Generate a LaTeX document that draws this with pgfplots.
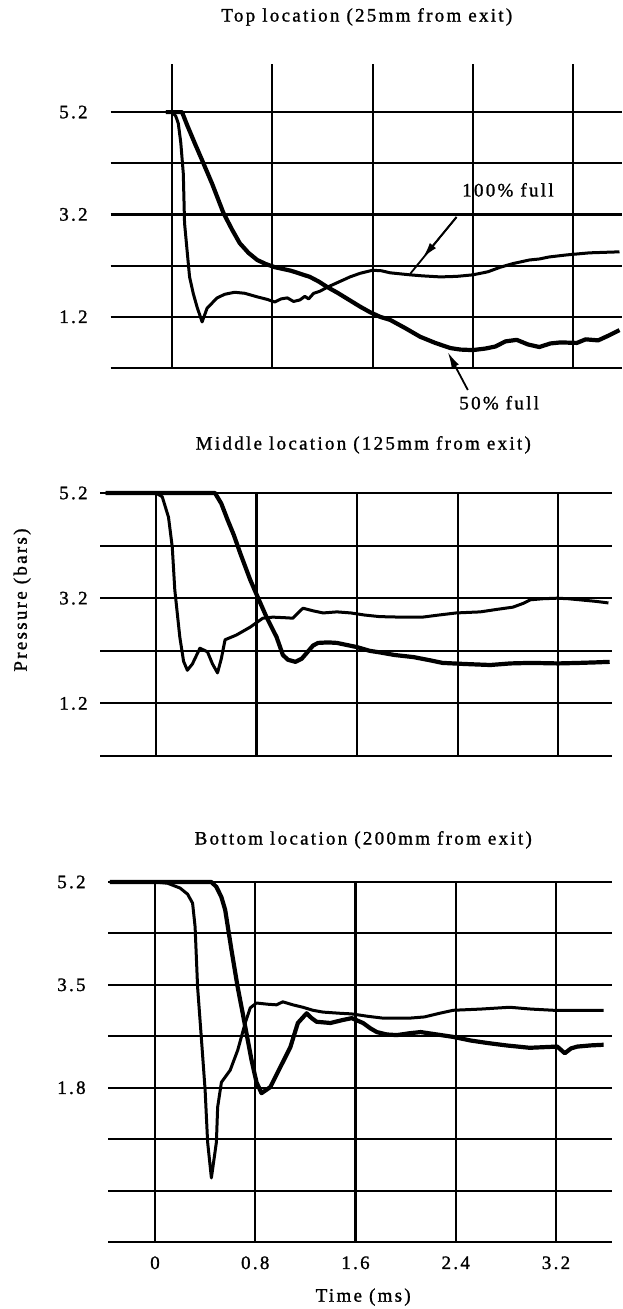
\documentclass[border=0pt]{standalone}
\usepackage{pgfplots}
\pgfplotsset{compat=1.18}
\usepackage{fontspec}
\setmainfont{Liberation Serif}[LetterSpace=12, FakeBold=1.2]
\usetikzlibrary{arrows.meta}

\newcommand{\figfont}{\fontsize{9.5}{11}\selectfont}
\pgfplotsset{
  every axis title shift=0pt,
  panel/.style={
    scale only axis, clip=false,
    axis line style={draw=none},
    major tick length=0pt,
    grid=major,
    major grid style={black, line width=1.05pt},
    xtick={0,0.8,1.6,2.4,3.2},
    /pgf/number format/assume math mode=true,
    tick label style={font=\figfont, inner sep=0pt},
    label style={font=\figfont},
    title style={font=\figfont, anchor=center},
  },
  fast/.style={black, line width=1.5pt, line join=round, no marks},
  slow/.style={black, line width=2.1pt, line join=round, no marks},
}

\begin{document}
\begin{tikzpicture}
\useasboundingbox (0,0) rectangle (311pt,-654.5pt);

% ---------------- Top panel ----------------
\begin{axis}[panel, at={(55.3pt,-184pt)}, anchor=south west,
  width=255.7pt, height=152pt,
  xmin=-0.49, xmax=3.59, ymin=0.2, ymax=6.14,
  ytick={0.2,1.2,2.2,3.2,4.2,5.2}, yticklabels={,1.2,,3.2,,5.2},
  xticklabels={},
  yticklabel style={anchor=east, xshift=-11.3pt},
  title={Top location (25mm from exit)},
  title style={at={(axis description cs:0.501,1.155)}}]
\addplot[fast] coordinates {
(-0.05,5.2) (0,5.2) (0.03,5.12) (0.05,4.98) (0.07,4.6) (0.09,4.0) (0.10,3.03) (0.12,2.5) (0.14,1.98) (0.17,1.65) (0.20,1.39) (0.24,1.1) (0.28,1.37) (0.32,1.47) (0.36,1.57) (0.42,1.64) (0.50,1.68) (0.58,1.66) (0.68,1.59) (0.76,1.54) (0.82,1.49) (0.87,1.55) (0.92,1.57) (0.97,1.5) (1.02,1.53) (1.06,1.6) (1.09,1.55) (1.13,1.66) (1.18,1.70) (1.24,1.78) (1.33,1.88) (1.42,1.98) (1.50,2.05) (1.60,2.11) (1.67,2.10) (1.74,2.06) (1.82,2.04) (1.90,2.02) (2.0,2.0) (2.14,1.98) (2.27,1.99) (2.40,2.02) (2.52,2.08) (2.62,2.17) (2.72,2.24) (2.85,2.31) (2.93,2.33) (3.01,2.37) (3.15,2.41) (3.33,2.45) (3.45,2.46) (3.57,2.47)
};
\addplot[slow] coordinates {
(-0.05,5.2) (0.08,5.2) (0.12,4.95) (0.18,4.6) (0.24,4.26) (0.32,3.8) (0.41,3.23) (0.48,2.9) (0.54,2.64) (0.61,2.45) (0.68,2.31) (0.75,2.23) (0.82,2.17) (0.95,2.1) (1.10,1.98) (1.17,1.89) (1.24,1.78) (1.32,1.67) (1.40,1.55) (1.50,1.40) (1.58,1.29) (1.66,1.2) (1.74,1.14) (1.86,0.98) (1.98,0.81) (2.10,0.69) (2.22,0.59) (2.30,0.56) (2.40,0.55) (2.50,0.58) (2.58,0.62) (2.66,0.72) (2.75,0.75) (2.84,0.66) (2.93,0.61) (3.02,0.68) (3.10,0.7) (3.23,0.69) (3.30,0.76) (3.40,0.74) (3.48,0.83) (3.57,0.94)
};
\node[font=\figfont] at (axis cs:2.68,3.68) {100\% full};
\node[font=\figfont] at (axis cs:2.61,-0.48) {50\% full};
\draw[line width=0.9pt] (axis cs:2.27,3.15) -- (axis cs:1.90,2.04);
\draw[line width=0.9pt, -{Latex[length=8pt,width=4pt]}] (axis cs:2.27,3.15) -- (axis cs:2.0,2.35);
\draw[line width=0.9pt, -{Latex[length=8pt,width=4pt]}] (axis cs:2.36,-0.23) -- (axis cs:2.20,0.51);
\end{axis}

% ---------------- Middle panel ----------------
\begin{axis}[panel, at={(50pt,-378pt)}, anchor=south west,
  width=256.1pt, height=131.5pt,
  xmin=-0.445, xmax=3.63, ymin=0.2, ymax=5.2,
  ytick={0.2,1.2,2.2,3.2,4.2,5.2}, yticklabels={,1.2,,3.2,,5.2},
  xticklabels={},
  yticklabel style={anchor=east, xshift=-6pt},
  title={Middle location (125mm from exit)},
  title style={at={(axis description cs:0.514,1.183)}},
  ylabel={Pressure (bars)},
  ylabel style={at={(axis description cs:-0.152,0.593)}, anchor=center}]
\addplot[fast] coordinates {
(-0.40,5.2) (0.0,5.2) (0.05,5.13) (0.10,4.74) (0.13,4.17) (0.15,3.36) (0.19,2.46) (0.22,2.0) (0.25,1.83) (0.29,1.95) (0.35,2.25) (0.41,2.18) (0.45,1.95) (0.49,1.78) (0.52,2.05) (0.55,2.41) (0.64,2.50) (0.75,2.65) (0.85,2.82) (0.93,2.84) (1.02,2.83) (1.09,2.82) (1.13,2.92) (1.17,3.01) (1.25,2.96) (1.33,2.92) (1.44,2.94) (1.55,2.92) (1.66,2.88) (1.78,2.85) (1.95,2.84) (2.12,2.84) (2.25,2.88) (2.39,2.92) (2.58,2.94) (2.72,2.99) (2.84,3.03) (2.92,3.1) (2.98,3.17) (3.08,3.19) (3.19,3.2) (3.28,3.19) (3.37,3.17) (3.50,3.14) (3.60,3.11)
};
\addplot[slow] coordinates {
(-0.40,5.2) (0.47,5.2) (0.52,5.0) (0.57,4.69) (0.62,4.4) (0.67,4.06) (0.75,3.55) (0.81,3.22) (0.88,2.84) (0.96,2.46) (1.01,2.12) (1.05,2.03) (1.11,1.99) (1.16,2.05) (1.20,2.16) (1.25,2.3) (1.29,2.35) (1.37,2.36) (1.44,2.35) (1.52,2.31) (1.60,2.27) (1.70,2.2) (1.78,2.17) (1.90,2.12) (2.05,2.08) (2.18,2.02) (2.28,1.97) (2.45,1.95) (2.66,1.93) (2.82,1.96) (2.98,1.97) (3.20,1.96) (3.37,1.97) (3.50,1.98) (3.61,1.99)
};
\end{axis}

% ---------------- Bottom panel ----------------
\begin{axis}[panel, at={(54pt,-621pt)}, anchor=south west,
  width=252.2pt, height=180pt,
  xmin=-0.375, xmax=3.65, ymin=-0.75, ymax=5.2,
  ytick={-0.75,0.1,0.95,1.8,2.65,3.5,4.35,5.2}, yticklabels={,,,1.8,,3.5,,5.2},
  xticklabels={0,0.8,1.6,2.4,3.2},
  xticklabel style={anchor=north, yshift=-7pt},
  yticklabel style={anchor=east, xshift=-11pt},
  title={Bottom location (200mm from exit)},
  title style={at={(axis description cs:0.506,1.117)}},
  xlabel={Time (ms)},
  xlabel style={at={(axis description cs:0.506,-0.153)}, anchor=center}]
\addplot[fast] coordinates {
(-0.36,5.2) (0.0,5.2) (0.1,5.18) (0.2,5.1) (0.26,5.0) (0.3,4.85) (0.32,4.46) (0.34,3.46) (0.37,2.62) (0.40,1.76) (0.42,0.9) (0.45,0.31) (0.49,0.9) (0.50,1.48) (0.53,1.89) (0.60,2.09) (0.66,2.42) (0.72,2.87) (0.76,3.12) (0.81,3.2) (0.90,3.18) (0.97,3.17) (1.02,3.22) (1.10,3.17) (1.18,3.13) (1.26,3.08) (1.34,3.05) (1.48,3.03) (1.57,3.02) (1.70,2.98) (1.82,2.95) (2.03,2.95) (2.15,2.97) (2.27,3.03) (2.38,3.08) (2.60,3.1) (2.83,3.13) (3.0,3.1) (3.18,3.08) (3.4,3.08) (3.58,3.08)
};
\addplot[slow] coordinates {
(-0.36,5.2) (0.3,5.2) (0.45,5.2) (0.49,5.12) (0.53,4.95) (0.56,4.74) (0.61,4.08) (0.66,3.46) (0.70,3.03) (0.73,2.70) (0.77,2.26) (0.81,1.89) (0.85,1.71) (0.92,1.81) (1.00,2.14) (1.08,2.47) (1.14,2.87) (1.21,3.03) (1.25,2.95) (1.29,2.89) (1.40,2.87) (1.50,2.92) (1.57,2.95) (1.66,2.87) (1.72,2.78) (1.77,2.72) (1.85,2.68) (1.93,2.67) (2.03,2.70) (2.12,2.72) (2.25,2.68) (2.38,2.64) (2.52,2.58) (2.65,2.54) (2.80,2.5) (2.99,2.46) (3.10,2.47) (3.21,2.48) (3.27,2.37) (3.32,2.45) (3.37,2.48) (3.48,2.5) (3.58,2.51)
};
\end{axis}
\end{tikzpicture}
\end{document}
